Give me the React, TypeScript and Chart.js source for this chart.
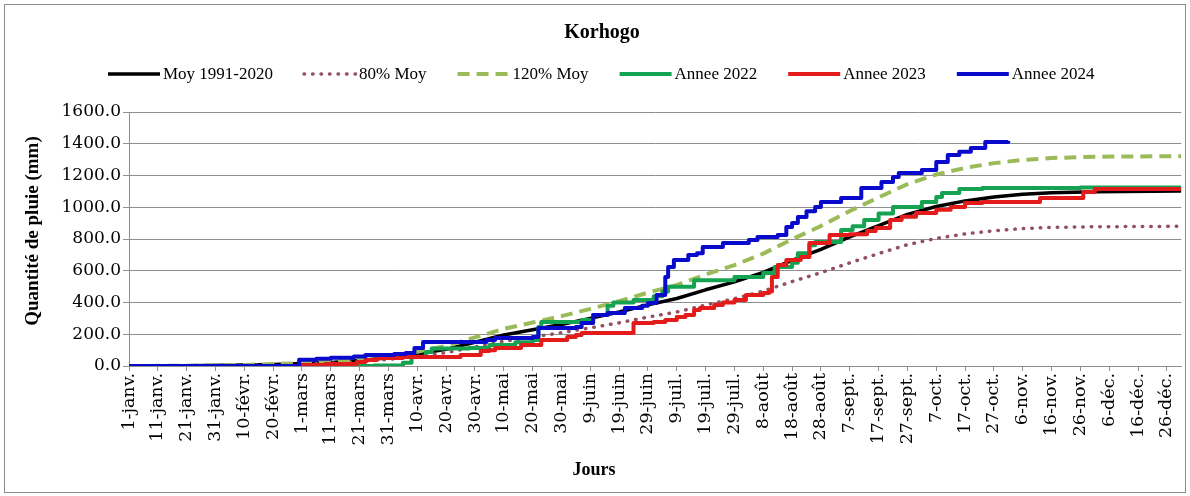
import React, { useEffect, useRef } from 'react';
import { Chart, registerables } from 'chart.js';

Chart.register(...registerables);

const chartTitle = 'Korhogo';
const xTitle = 'Jours';
const yTitle = 'Quantité de pluie (mm)';

const tickDays = [0, 10, 20, 30, 40, 50, 60, 70, 80, 90, 100, 110, 120, 130, 140, 150, 160, 170, 180, 190, 200, 210, 220, 230, 240, 250, 260, 270, 280, 290, 300, 310, 320, 330, 340, 350, 360];
const tickLabels = ['1-janv.', '11-janv.', '21-janv.', '31-janv.', '10-févr.', '20-févr.', '1-mars', '11-mars', '21-mars', '31-mars', '10-avr.', '20-avr.', '30-avr.', '10-mai', '20-mai', '30-mai', '9-juin', '19-juin', '29-juin', '9-juil.', '19-juil.', '29-juil.', '8-août', '18-août', '28-août', '7-sept.', '17-sept.', '27-sept.', '7-oct.', '17-oct.', '27-oct.', '6-nov.', '16-nov.', '26-nov.', '6-déc.', '16-déc.', '26-déc.'];

const seriesNames = ['Moy 1991-2020', '80% Moy', '120% Moy', 'Annee 2022', 'Annee 2023', 'Annee 2024'];

// [day index from 1-janv., cumulative rainfall mm]
const moy: [number, number][] = [[0, 0], [20, 2], [40, 6], [50, 10], [60, 15], [70, 22], [80, 35], [90, 52], [100, 75], [110, 105], [120, 150], [130, 195], [140, 228], [150, 262], [160, 300], [170, 340], [180, 385], [190, 425], [200, 480], [210, 530], [220, 590], [230, 665], [240, 735], [250, 813], [260, 885], [270, 955], [280, 1005], [290, 1040], [300, 1065], [310, 1082], [320, 1092], [335, 1098], [365, 1102]];

const moy80: [number, number][] = [[0, 0], [20, 2], [40, 5], [50, 8], [60, 12], [70, 18], [80, 28], [90, 42], [100, 60], [110, 84], [120, 120], [130, 156], [140, 182], [150, 210], [160, 240], [170, 272], [180, 308], [190, 340], [200, 384], [210, 424], [220, 472], [230, 532], [240, 588], [250, 650], [260, 708], [270, 764], [280, 804], [290, 832], [300, 852], [310, 866], [320, 873], [335, 877], [365, 880]];

const moy120: [number, number][] = [[0, 0], [20, 2], [40, 7], [50, 12], [60, 18], [70, 27], [80, 42], [90, 62], [100, 90], [110, 126], [120, 180], [130, 234], [140, 274], [150, 314], [160, 360], [170, 408], [180, 462], [190, 510], [200, 576], [210, 636], [220, 708], [230, 798], [240, 882], [250, 976], [260, 1062], [270, 1146], [280, 1206], [290, 1248], [300, 1278], [310, 1298], [320, 1310], [335, 1318], [365, 1322]];

const annee2022: [number, number][] = [[0, 0], [85, 3], [95, 20], [98, 57], [103, 88], [105, 110], [118, 113], [125, 132], [134, 150], [140, 164], [142, 246], [143, 277], [157, 290], [161, 321], [166, 380], [168, 400], [175, 416], [182, 440], [185, 470], [187, 500], [196, 540], [210, 560], [220, 586], [224, 624], [230, 650], [232, 711], [236, 760], [238, 781], [247, 857], [251, 880], [255, 920], [260, 960], [265, 1002], [275, 1033], [280, 1065], [282, 1090], [288, 1115], [296, 1121], [330, 1124], [365, 1124]];

const annee2023: [number, number][] = [[0, 0], [59, 0], [60, 6], [68, 12], [79, 25], [82, 38], [86, 50], [95, 57], [115, 69], [122, 94], [125, 100], [127, 113], [136, 132], [143, 164], [152, 183], [155, 195], [157, 208], [174, 208], [175, 271], [182, 277], [186, 290], [190, 309], [193, 321], [196, 353], [198, 365], [203, 384], [206, 400], [210, 416], [214, 447], [220, 460], [222, 470], [223, 561], [225, 636], [228, 668], [233, 687], [236, 775], [243, 825], [250, 830], [256, 850], [259, 869], [264, 920], [268, 940], [273, 964], [280, 985], [285, 1002], [290, 1027], [296, 1033], [315, 1033], [316, 1058], [330, 1058], [331, 1096], [335, 1115], [365, 1115]];

const annee2024: [number, number][] = [[0, 0], [58, 0], [59, 40], [65, 45], [70, 52], [78, 60], [82, 70], [92, 75], [96, 82], [99, 113], [102, 151], [122, 151], [124, 164], [127, 176], [140, 183], [142, 239], [155, 246], [157, 271], [161, 321], [166, 334], [172, 365], [178, 380], [180, 397], [183, 447], [186, 560], [187, 624], [189, 668], [194, 699], [197, 711], [199, 750], [206, 775], [215, 794], [218, 813], [225, 825], [228, 876], [230, 901], [232, 939], [235, 975], [238, 1002], [240, 1033], [247, 1058], [254, 1121], [261, 1159], [265, 1190], [267, 1216], [275, 1235], [280, 1285], [284, 1329], [288, 1350], [292, 1373], [297, 1411], [305, 1417]];

const yMin = 0;
const yMax = 1600;
const yStep = 200;

const toXY = (arr: [number, number][]) => arr.map(([x, y]) => ({ x, y }));

const SERIF = '"Liberation Serif", "Times New Roman", serif';
const TICKFONT = '"DejaVu Serif", serif';

const decorPlugin = {
  id: 'decor',
  beforeDraw(chart: any) {
    const ctx = chart.ctx;
    ctx.save();
    ctx.fillStyle = '#ffffff';
    ctx.fillRect(0, 0, chart.width, chart.height);
    ctx.restore();
  },
  afterDraw(chart: any) {
    const ctx = chart.ctx as CanvasRenderingContext2D;
    ctx.save();
    ctx.strokeStyle = '#8a8a8a';
    ctx.lineWidth = 1;
    ctx.strokeRect(4.5, 4.5, 1181, 488);

    ctx.fillStyle = '#000';
    ctx.textBaseline = 'middle';
    ctx.textAlign = 'center';
    ctx.font = 'bold 20px ' + SERIF;
    ctx.fillText(chartTitle, 602, 33);

    // legend
    ctx.font = '17px ' + SERIF;
    ctx.textAlign = 'left';
    let x = 108;
    const ly = 74;
    chart.data.datasets.forEach((ds: any) => {
      ctx.save();
      ctx.strokeStyle = ds.borderColor;
      ctx.lineWidth = ds.borderWidth;
      ctx.lineCap = ds.borderCapStyle || 'butt';
      ctx.setLineDash(ds.borderDash || []);
      ctx.beginPath();
      ctx.moveTo(x, ly);
      ctx.lineTo(x + 52, ly);
      ctx.stroke();
      ctx.restore();
      x += 55;
      ctx.fillText(ds.label, x, ly + 1);
      x += ctx.measureText(ds.label).width + 31;
    });

    ctx.textAlign = 'center';
    ctx.font = 'bold 18px ' + SERIF;
    ctx.fillText(xTitle, 594, 470);

    ctx.font = 'bold 19px ' + SERIF;
    ctx.translate(33, 231);
    ctx.rotate(-Math.PI / 2);
    ctx.fillText(yTitle, 0, 0);
    ctx.restore();
  },
};

export default function App() {
  const ref = useRef<HTMLCanvasElement | null>(null);
  useEffect(() => {
    document.body.style.margin = '0';
    if (!ref.current) return;
    const grid = '#8f8f8f';
    const chart = new Chart(ref.current, {
      type: 'line',
      data: {
        datasets: [
          { label: seriesNames[0], data: toXY(moy), borderColor: '#000000', borderWidth: 3.5, pointRadius: 0, tension: 0, order: 6, borderJoinStyle: 'round' },
          { label: seriesNames[1], data: toXY(moy80), borderColor: '#93505f', borderWidth: 3.5, borderDash: [0.5, 8], borderCapStyle: 'round', pointRadius: 0, order: 5 },
          { label: seriesNames[2], data: toXY(moy120), borderColor: '#9bbb59', borderWidth: 4, borderDash: [12, 7], pointRadius: 0, order: 4 },
          { label: seriesNames[3], data: toXY(annee2022), borderColor: '#16a351', borderWidth: 4, stepped: 'before', pointRadius: 0, order: 3, borderJoinStyle: 'round' },
          { label: seriesNames[4], data: toXY(annee2023), borderColor: '#e31b1b', borderWidth: 4, stepped: 'before', pointRadius: 0, order: 2, borderJoinStyle: 'round' },
          { label: seriesNames[5], data: toXY(annee2024), borderColor: '#0a0acc', borderWidth: 4, stepped: 'before', pointRadius: 0, order: 1, borderJoinStyle: 'round' },
        ] as any,
      },
      options: {
        animation: false,
        responsive: false,
        layout: { padding: { top: 112, left: 10, right: 8, bottom: 0 } },
        plugins: {
          legend: { display: false },
          title: { display: false },
          tooltip: { enabled: false },
        },
        scales: {
          x: {
            type: 'linear',
            min: 0,
            max: 365,
            afterBuildTicks: (scale: any) => {
              scale.ticks = tickDays.map((v) => ({ value: v }));
            },
            afterFit: (scale: any) => {
              scale.height = 130;
            },
            ticks: {
              autoSkip: false,
              minRotation: 90,
              maxRotation: 90,
              padding: 2,
              color: '#000',
              font: { family: TICKFONT, size: 17.5 },
              callback: (value: any) => tickLabels[tickDays.indexOf(Number(value))] ?? '',
            },
            grid: { drawOnChartArea: false, drawTicks: true, tickLength: 5, color: grid },
            border: { color: grid, width: 1 },
          },
          y: {
            type: 'linear',
            min: yMin,
            max: yMax,
            afterFit: (scale: any) => {
              scale.width = 119;
            },
            ticks: {
              stepSize: yStep,
              padding: 2,
              color: '#000',
              font: { family: TICKFONT, size: 17 },
              callback: (value: any) => Number(value).toFixed(1),
            },
            grid: { color: grid, tickLength: 6, lineWidth: 1 },
            border: { color: grid, width: 1 },
          },
        },
      },
      plugins: [decorPlugin],
    });
    return () => chart.destroy();
  }, []);
  return (
    <div style={{ position: 'absolute', left: 0, top: 0, width: 1190, height: 496 }}>
      <canvas ref={ref} width={1190} height={496} />
    </div>
  );
}
